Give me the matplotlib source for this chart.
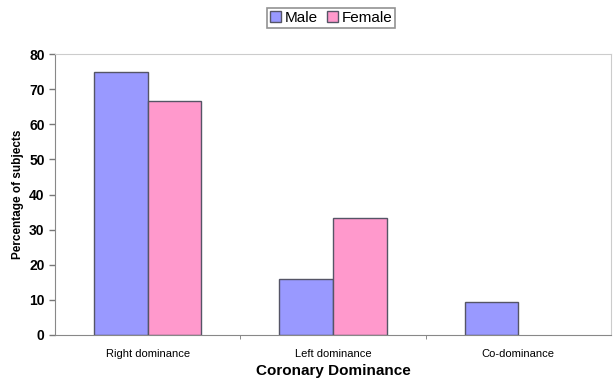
import matplotlib.pyplot as plt
import numpy as np

plt.rcParams['font.family'] = ['Liberation Sans', 'DejaVu Sans']

categories = ['Right dominance', 'Left dominance', 'Co-dominance']
male = [75, 15.9, 9.3]
female = [66.7, 33.3, 0]

fig = plt.figure(figsize=(6.13, 3.85), dpi=100)
ax = fig.add_axes([0.0897, 0.1299, 0.907, 0.7298])

x = np.arange(len(categories))
w = 0.29
ax.bar(x - w / 2, male, w, color='#9999ff', edgecolor='#555566', linewidth=1, label='Male')
fb = ax.bar(x + w / 2, female, w, color='#ff99cc', edgecolor='#555566', linewidth=1, label='Female')
# zero-height bar: no visible outline
for p in fb.patches:
    if p.get_height() == 0:
        p.set_linewidth(0)

ax.set_xlim(-0.5, 2.5)
ax.set_ylim(0, 80)
ax.set_yticks(range(0, 81, 10))
ax.tick_params(axis='y', labelsize=10, length=4, color='#777777', width=1)
for t in ax.get_yticklabels():
    t.set_fontweight('bold')

ax.set_xticks(x)
ax.set_xticklabels(categories, fontsize=8)
ax.tick_params(axis='x', length=0, pad=10)
ax.set_xticks([0.5, 1.5], minor=True)
ax.tick_params(axis='x', which='minor', length=3, color='#777777')

ax.set_xlabel('Coronary Dominance', fontsize=11, fontweight='bold', labelpad=4)
ax.set_ylabel('Percentage of subjects', fontsize=8.5, fontweight='bold', labelpad=4)

for s in ['left', 'bottom']:
    ax.spines[s].set_color('#888888')
for s in ['top', 'right']:
    ax.spines[s].set_color('#cccccc')

leg = fig.legend(loc='center', bbox_to_anchor=(0.54, 0.953), ncol=2, fontsize=11,
                 frameon=True, fancybox=False, edgecolor='#777777', handlelength=0.75,
                 handleheight=0.75, handletextpad=0.2, columnspacing=0.6, borderpad=0.2)
leg.get_frame().set_linewidth(1.2)

fig.savefig('out.png', dpi=100)
